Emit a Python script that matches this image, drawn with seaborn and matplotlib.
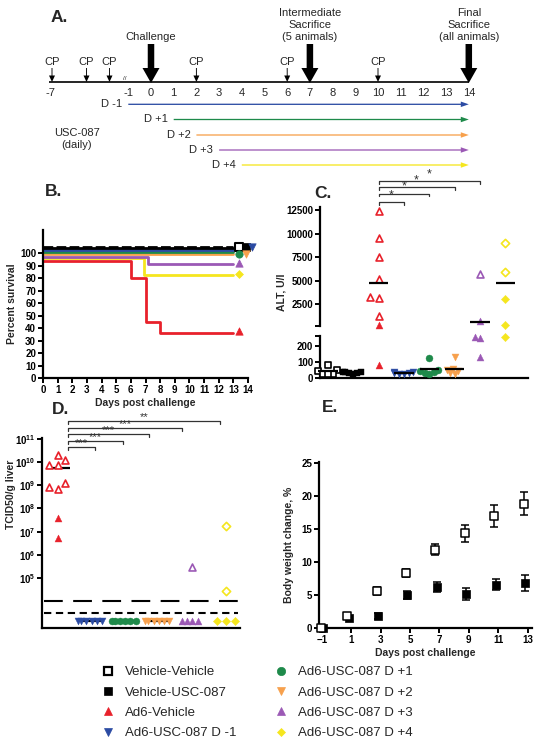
import numpy as np
import pandas as pd
import matplotlib
matplotlib.use('Agg')
import matplotlib.pyplot as plt
import seaborn as sns
import matplotlib.transforms as mtrans
from matplotlib.patches import FancyArrow
from matplotlib.lines import Line2D
from matplotlib.ticker import LogFormatterMathtext, NullLocator

# ------------------------------------------------------------------ data
# Panel A: study schedule
cp_days = [-7, -4, -2, 2, 6, 10]
axis_days = list(range(-1, 15))
event_days = [0, 7, 14]
event_labels = ['Challenge', 'Intermediate\nSacrifice\n(5 animals)', 'Final\nSacrifice\n(all animals)']
treat_start = [-1, 1, 2, 3, 4]
treat_labels = ['D -1', 'D +1', 'D +2', 'D +3', 'D +4']
treat_end = 14

groups = ['Vehicle-Vehicle', 'Vehicle-USC-087', 'Ad6-Vehicle', 'Ad6-USC-087 D -1',
          'Ad6-USC-087 D +1', 'Ad6-USC-087 D +2', 'Ad6-USC-087 D +3', 'Ad6-USC-087 D +4']
colors = ['black', 'black', '#E8212B', '#2B4BA3', '#1E8A4A', '#F7A04C', '#9B59B5', '#F5E61E']
markers = ['s', 's', '^', 'v', 'o', 'v', '^', 'D']
legend_open = [True, False, False, False, False, False, False, False]

# Panel B: survival (step curves, % survival; GraphPad-offset curves)
surv_t = {
    'Ad6-Vehicle': [0, 6, 7, 8, 13],
    'Ad6-USC-087 D +4': [0, 6.9, 13],
    'Ad6-USC-087 D +3': [0, 7.15, 13],
    'Ad6-USC-087 D +2': [0, 13],
    'Ad6-USC-087 D +1': [0, 13],
    'Ad6-USC-087 D -1': [0, 13],
    'Vehicle-USC-087': [0, 13],
    'Vehicle-Vehicle': [0, 13],
}
surv_v = {
    'Ad6-Vehicle': [94, 80, 44.8, 36, 36],
    'Ad6-USC-087 D +4': [96, 82.5, 82.5],
    'Ad6-USC-087 D +3': [97.3, 91.5, 91.5],
    'Ad6-USC-087 D +2': [99.6, 99.6],
    'Ad6-USC-087 D +1': [101.2, 101.2],
    'Ad6-USC-087 D -1': [102.6, 102.6],
    'Vehicle-USC-087': [103.9, 103.9],
    'Vehicle-Vehicle': [105.2, 105.2],
}
surv_end_x = [13.36, 13.84, 13.36, 14.3, 13.36, 13.84, 13.36, 13.36]
surv_end_y = [104.8, 104.8, 37.5, 104.8, 99.4, 99.4, 92.3, 83.2]

# Panel C: ALT, U/l  (open = intermediate sacrifice, filled = final)
alt_open = {
    'Vehicle-Vehicle': [83, 50, 46, 28, 26, 24],
    'Ad6-Vehicle': [12390, 9500, 7480, 5150, 3300, 3200, 1290],
    'Ad6-USC-087 D +3': [5680],
    'Ad6-USC-087 D +4': [8970, 5960],
}
alt_filled = {
    'Vehicle-USC-087': [40, 35, 33, 30, 28, 38],
    'Ad6-Vehicle': [305, 84],
    'Ad6-USC-087 D -1': [38, 35, 30, 28, 25, 33],
    'Ad6-USC-087 D +1': [127, 48, 45, 35, 30, 28],
    'Ad6-USC-087 D +2': [131, 55, 52, 45, 30, 28],
    'Ad6-USC-087 D +3': [760, 250, 255, 131],
    'Ad6-USC-087 D +4': [3030, 305, 258],
}
alt_median = [44, 33, 4730, 31, 54, 58, 590, 4730]
alt_sig_to = ['Ad6-USC-087 D -1', 'Ad6-USC-087 D +1', 'Ad6-USC-087 D +2', 'Ad6-USC-087 D +3']
alt_sig_lab = ['*', '*', '*', '*']
alt_upper_ticks = [2500, 5000, 7500, 10000, 12500]
alt_lower_ticks = [0, 100, 200]

# Panel D: liver virus titer, TCID50/g
tc_groups = groups[2:]
tc_open = {
    'Ad6-Vehicle': [10**9.86, 10**10.29, 10**9.86, 10**10.09, 10**9.11, 10**8.85, 10**8.92],
    'Ad6-USC-087 D +3': [10**5.49],
    'Ad6-USC-087 D +4': [10**7.23, 10**4.44],
}
tc_filled = {
    'Ad6-Vehicle': [10**7.58, 10**6.72],
    'Ad6-USC-087 D -1': [10**3.15] * 6,
    'Ad6-USC-087 D +1': [10**3.15] * 6,
    'Ad6-USC-087 D +2': [10**3.15] * 6,
    'Ad6-USC-087 D +3': [10**3.15] * 4,
    'Ad6-USC-087 D +4': [10**3.15] * 3,
}
tc_median = {'Ad6-Vehicle': 10**9.73, 'Ad6-USC-087 D -1': 10**3.15,
             'Ad6-USC-087 D +1': 10**3.15, 'Ad6-USC-087 D +2': 10**3.15}
tc_limits = [1e4, 10**3.5]
tc_sig_to = ['Ad6-USC-087 D -1', 'Ad6-USC-087 D +1', 'Ad6-USC-087 D +2',
             'Ad6-USC-087 D +3', 'Ad6-USC-087 D +4']
tc_sig_lab = ['***', '***', '***', '***', '**']

# Panel E: body weight change, %
bw_days_vv = [-1.05, 0.72, 2.72, 4.72, 6.72, 8.72, 10.72, 12.73]
bw_vv = [0, 1.8, 5.6, 8.4, 11.9, 14.4, 17.0, 18.9]
bw_vv_err = [0.1, 0.2, 0.55, 0.6, 0.85, 1.3, 1.7, 1.8]
bw_days_vu = [-0.95, 0.83, 2.83, 4.8, 6.82, 8.84, 10.82, 12.85]
bw_vu = [0, 1.5, 1.8, 4.95, 6.2, 5.1, 6.6, 6.8]
bw_vu_err = [0.1, 0.2, 0.5, 0.6, 0.8, 0.9, 0.9, 1.2]

# ------------------------------------------------------------------ style
W, H = 539, 743
sns.set_theme(style='ticks')
plt.rcParams['font.family'] = ['Liberation Sans', 'DejaVu Sans']
plt.rcParams['font.weight'] = 'bold'
plt.rcParams['axes.labelweight'] = 'bold'
plt.rcParams['mathtext.fontset'] = 'custom'
plt.rcParams['mathtext.bf'] = 'Liberation Sans:bold'
plt.rcParams['mathtext.rm'] = 'Liberation Sans:bold'
plt.rcParams['mathtext.default'] = 'bf'
plt.rcParams['axes.linewidth'] = 1.6
for a in ('xtick', 'ytick'):
    plt.rcParams[f'{a}.major.width'] = 1.4
    plt.rcParams[f'{a}.major.size'] = 3.5
    plt.rcParams[f'{a}.labelsize'] = 7
    plt.rcParams[f'{a}.major.pad'] = 1.5
    plt.rcParams[f'{a}.color'] = 'black'
plt.rcParams['axes.edgecolor'] = 'black'
plt.rcParams['axes.labelsize'] = 7.5

fig = plt.figure(figsize=(W / 100, H / 100), dpi=100)


def add_ax(x0, y0, x1, y1):
    return fig.add_axes([x0 / W, 1 - y1 / H, (x1 - x0) / W, (y1 - y0) / H])


def panel_letter(x, y, s):
    fig.text(x / W, 1 - y / H, s, fontsize=12.5, fontweight='bold', ha='left', va='center')


cmap = dict(zip(groups, colors))
mmap = dict(zip(groups, markers))

# ------------------------------------------------------------------ Panel A
axA = add_ax(0, 0, W, 190)
axA.set_xlim(0, W)
axA.set_ylim(190, 0)
axA.axis('off')


def tx(d):
    return 151 + 22.7 * d if d >= -1 else 52 + 11.5 * (d + 7)


AXY = 82
axA.plot([tx(-7) - 3, tx(14)], [AXY, AXY], color='black', lw=1.2, solid_capstyle='butt')
axA.text(tx(-7) - 2, 93, '-7', ha='center', va='center', fontsize=8, fontweight='normal')
for d in axis_days:
    axA.text(tx(d), 93, str(d), ha='center', va='center', fontsize=8, fontweight='normal')
axA.text(125, 79, '//', ha='center', va='center', fontsize=4.5, fontweight='normal')
for d in cp_days:
    axA.add_patch(FancyArrow(tx(d), 68, 0, AXY - 68, width=0.9, head_width=6, head_length=6.5,
                             length_includes_head=True, color='black', lw=0))
    axA.text(tx(d), 62, 'CP', ha='center', va='center', fontsize=8, fontweight='normal')
for d, lab in zip(event_days, event_labels):
    axA.add_patch(FancyArrow(tx(d), 44, 0, AXY - 44 + 1, width=6.5, head_width=17, head_length=15,
                             length_includes_head=True, color='black', lw=0))
    axA.text(tx(d), 41.5, lab, ha='center', va='bottom', fontsize=8, fontweight='normal',
             linespacing=1.2, multialignment='center')
treat_y = [104.3, 119.5, 135, 150, 165]
for s, lab, c, y in zip(treat_start, treat_labels, colors[3:], treat_y):
    axA.add_patch(FancyArrow(tx(s), y, tx(treat_end) - tx(s), 0, width=1.3, head_width=5.5,
                             head_length=8, length_includes_head=True, color=c, lw=0))
    axA.text(tx(s) - 6, y, lab, ha='right', va='center', fontsize=8, fontweight='normal')
axA.text(77, 139, 'USC-087\n(daily)', ha='center', va='center', fontsize=8, fontweight='normal',
         linespacing=1.25)
panel_letter(51, 17, 'A.')

# ------------------------------------------------------------------ Panel B
axB = add_ax(43, 230, 248, 378.3)
for g in surv_t:
    df = pd.DataFrame({'day': surv_t[g], 'pct': surv_v[g]})
    sns.lineplot(data=df, x='day', y='pct', ax=axB, color=cmap[g], lw=2,
                 drawstyle='steps-post', legend=False)
    if g == 'Vehicle-Vehicle':
        axB.lines[-1].set_dashes([3.5, 1.2])
for g, x, y in zip(groups, surv_end_x, surv_end_y):
    if g == 'Vehicle-Vehicle':
        sns.scatterplot(x=[x], y=[y], ax=axB, marker='s', s=28, facecolor='white',
                        edgecolor='black', linewidth=1.5, clip_on=False, legend=False, zorder=5)
    else:
        sns.scatterplot(x=[x], y=[y], ax=axB, marker=mmap[g], s=28 if mmap[g] != 'D' else 16,
                        color=cmap[g], edgecolor=cmap[g], linewidth=0.5, clip_on=False,
                        legend=False, zorder=5)
axB.set_xlim(0, 14)
axB.set_ylim(0, 118.6)
axB.set_xticks(range(0, 15))
axB.set_yticks(range(0, 101, 10))
axB.set_xlabel('Days post challenge', labelpad=2)
axB.set_ylabel('Percent survival', labelpad=2)
sns.despine(ax=axB)
panel_letter(45, 191, 'B.')

# ------------------------------------------------------------------ Panel C
axCu = add_ax(320, 207, 528, 326)
axCl = add_ax(320, 336, 528, 378)
UP_MIN, UP_MAX = 200, 12820
LO_MAX = 262

swarm_colls = []   # (collection, final marker size) -> resized after the swarm layout is fixed


def swarm(ax, g, vals, order, open_, size, layout, log=False):
    """Swarm positions computed with a `layout` marker (GraphPad-like packing), drawn at `size`."""
    if len(vals) == 0:
        return
    n0 = len(ax.collections)
    sns.swarmplot(x=[g] * len(vals), y=vals, order=order, ax=ax, marker=mmap[g],
                  color=cmap[g], size=layout, linewidth=0, clip_on=False, warn_thresh=1,
                  log_scale=log)
    for coll in ax.collections[n0:]:
        if open_:
            coll.set_facecolor('white')
            coll.set_edgecolor(cmap[g])
            coll.set_linewidth(1.2)
        else:
            coll.set_facecolor(cmap[g])
            coll.set_edgecolor(cmap[g])
            coll.set_linewidth(0.3)
        coll.set_clip_on(False)
        coll.set_zorder(4)
        swarm_colls.append((coll, size))


for g in groups:
    for src, op in ((alt_open, True), (alt_filled, False)):
        vals = src.get(g, [])
        up = [v for v in vals if v > LO_MAX]
        lo = [v for v in vals if v <= LO_MAX]
        sz = 5.0 if mmap[g] not in ('D', 's') else 4.2
        if up:
            swarm(axCu, g, up, groups, op, sz, sz)
        if lo:
            swarm(axCl, g, lo, groups, op, sz, sz * 0.6)
for i, (g, m) in enumerate(zip(groups, alt_median)):
    ax = axCu if m > LO_MAX else axCl
    ax.hlines(m, i - 0.38, i + 0.38, color='black', lw=1.6, zorder=6, clip_on=False)
for ax in (axCu, axCl):
    ax.set_xlim(-0.32, 7.9)
    ax.set_xticks([])
    ax.set_xlabel('')
    ax.set_ylabel('')
axCu.set_ylim(UP_MIN, UP_MAX)
axCu.set_yticks([UP_MIN] + alt_upper_ticks)
axCu.set_yticklabels([''] + [str(t) for t in alt_upper_ticks])
axCl.set_ylim(0, LO_MAX)
axCl.set_yticks(alt_lower_ticks + [LO_MAX])
axCl.set_yticklabels([str(t) for t in alt_lower_ticks] + [''])
sns.despine(ax=axCu, bottom=True)
sns.despine(ax=axCl)
# significance brackets
trC = mtrans.blended_transform_factory(axCu.transData, axCu.transAxes)
x0 = groups.index('Ad6-Vehicle')
for k, (g, lab) in enumerate(zip(alt_sig_to, alt_sig_lab)):
    ypx = [202, 193.5, 187, 181][k]
    yf = (326 - ypx) / 119
    x1 = groups.index(g)
    axCu.plot([x0, x0, x1, x1], [yf - 0.025, yf, yf, yf - 0.025], transform=trC, color='#333333',
              lw=0.9, clip_on=False)
    axCu.text((x0 + x1) / 2, yf + 0.005, lab, transform=trC, ha='center', va='bottom',
              fontsize=9, fontweight='normal', color='#333333')
fig.text(281 / W, 1 - 292 / H, 'ALT, U/I', rotation=90, ha='center', va='center', fontsize=7.5,
         fontweight='bold')
panel_letter(314, 193, 'C.')

# ------------------------------------------------------------------ Panel D
axD = add_ax(42, 438, 240, 628.3)
axD.set_yscale('log')
for g in tc_groups:
    for src, op in ((tc_open, True), (tc_filled, False)):
        vals = src.get(g, [])
        if vals:
            sz = 5.0 if mmap[g] != 'D' else 4.2
            if op or g == 'Ad6-Vehicle':
                lay = sz
            else:
                lay = 3.3 if mmap[g] != 'D' else 6.0
            swarm(axD, g, vals, tc_groups, op, sz, lay, log=True)
for g, m in tc_median.items():
    i = tc_groups.index(g)
    axD.hlines(m, i - 0.36, i + 0.36, color='black', lw=1.6, zorder=3)
axD.axhline(tc_limits[0], xmin=0.01, xmax=0.99, color='black', lw=1.5, dashes=(9, 5))
axD.axhline(tc_limits[1], xmin=0.01, xmax=0.99, color='black', lw=1.5, dashes=(3.5, 2.2))
axD.set_xlim(-0.48, 5.42)
axD.set_ylim(10**2.84, 10**11.03)
axD.set_xticks([])
axD.set_yticks([10.0**e for e in range(5, 12)])
axD.yaxis.set_major_formatter(LogFormatterMathtext())
axD.yaxis.set_minor_locator(NullLocator())
axD.set_xlabel('')
axD.set_ylabel('')
sns.despine(ax=axD)
trD = mtrans.blended_transform_factory(axD.transData, axD.transAxes)
for k, (g, lab) in enumerate(zip(tc_sig_to, tc_sig_lab)):
    ypx = [447, 441, 434, 428, 421][k]
    yf = (628.3 - ypx) / 190.3
    xe = [1.1, 1.93, 2.71, 3.69, 4.82][k]
    axD.plot([0.3, 0.3, xe, xe], [yf - 0.014, yf, yf, yf - 0.014], transform=trD,
             color='#333333', lw=0.9, clip_on=False)
    axD.text((0.3 + xe) / 2, yf - 0.004, lab, transform=trD, ha='center', va='bottom',
             fontsize=8, fontweight='normal', color='#333333')
fig.text(11 / W, 1 - 494 / H, 'TCID50/g liver', rotation=90, ha='center', va='center',
         fontsize=7.5, fontweight='bold')
panel_letter(52, 410, 'D.')

# ------------------------------------------------------------------ Panel E
axE = add_ax(319, 462, 532, 628)
axE.errorbar(bw_days_vv, bw_vv, yerr=bw_vv_err, fmt='none', ecolor='black', elinewidth=1.1,
             capsize=2.8, capthick=1.1, zorder=2)
axE.errorbar(bw_days_vu, bw_vu, yerr=bw_vu_err, fmt='none', ecolor='black', elinewidth=1.1,
             capsize=2.8, capthick=1.1, zorder=2)
sns.scatterplot(x=bw_days_vu, y=bw_vu, ax=axE, marker='s', s=26, color='black',
                edgecolor='black', linewidth=0.5, clip_on=False, legend=False, zorder=4)
sns.scatterplot(x=bw_days_vv, y=bw_vv, ax=axE, marker='s', s=26, facecolor='white',
                edgecolor='black', linewidth=1.1, clip_on=False, legend=False, zorder=5)
axE.set_xlim(-1.2, 13.3)
axE.set_ylim(0, 25.2)
axE.set_xticks(range(-1, 14, 2))
axE.set_yticks(range(0, 26, 5))
axE.set_xlabel('Days post challenge', labelpad=2)
axE.set_ylabel('Body weight change, %', labelpad=5)
sns.despine(ax=axE)
panel_letter(322, 408, 'E.')

# ------------------------------------------------------------------ legend
handles = []
for g, c, m, op in zip(groups, colors, markers, legend_open):
    handles.append(Line2D([], [], ls='', marker=m, markersize=6 if m != 'D' else 4.5,
                          markerfacecolor='white' if op else c, markeredgecolor=c,
                          markeredgewidth=1.6 if op else 0.5))
for k, xh in ((0, 101.5), (4, 274.5)):
    fig.legend(handles[k:k + 4], groups[k:k + 4], loc='upper left',
               bbox_to_anchor=(xh / W, 1 - 666 / H), frameon=False,
               prop={'weight': 'normal', 'size': 9.5}, handlelength=1.0, handletextpad=0.8,
               labelspacing=0.62, borderpad=0, borderaxespad=0)

# fix the swarm layout (computed with the packing size), then show markers at full size
fig.canvas.draw()
for coll, size in swarm_colls:
    coll.__dict__.pop('draw', None)
    coll.set_sizes([size ** 2])

fig.savefig('out.png', dpi=100)
